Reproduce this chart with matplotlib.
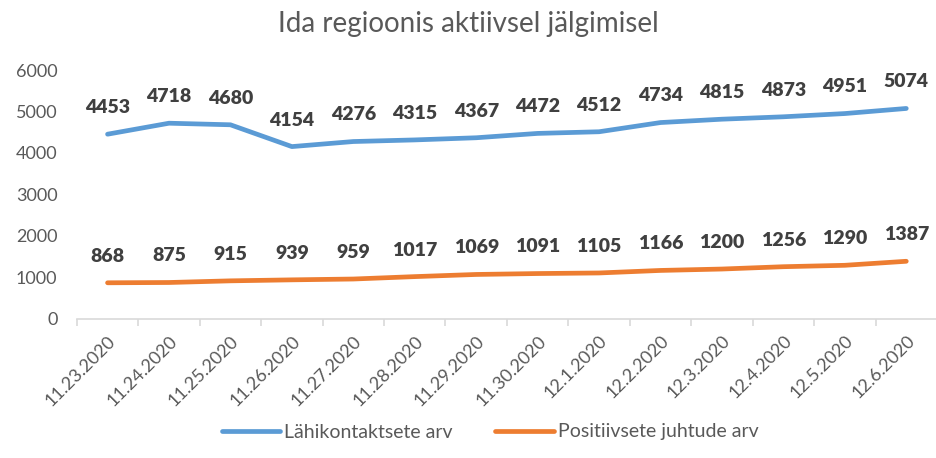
import matplotlib.pyplot as plt
import numpy as np

plt.rcParams['font.family'] = ['Lato', 'DejaVu Sans']

dates = ['11.23.2020', '11.24.2020', '11.25.2020', '11.26.2020', '11.27.2020',
         '11.28.2020', '11.29.2020', '11.30.2020', '12.1.2020', '12.2.2020',
         '12.3.2020', '12.4.2020', '12.5.2020', '12.6.2020']
contacts = [4453, 4718, 4680, 4154, 4276, 4315, 4367, 4472, 4512, 4734,
            4815, 4873, 4951, 5074]
positives = [868, 875, 915, 939, 959, 1017, 1069, 1091, 1105, 1166,
             1200, 1256, 1290, 1387]

blue = '#5B9BD5'
orange = '#ED7D31'
text_col = '#595959'
label_col = '#404040'

fig = plt.figure(figsize=(9.37, 4.58), dpi=100)
ax = fig.add_axes([0.082, 0.304, 0.918, 0.543])

x = np.arange(len(dates))
ax.plot(x, contacts, color=blue, lw=3.4, solid_capstyle='round', label='Lähikontaktsete arv')
ax.plot(x, positives, color=orange, lw=3.4, solid_capstyle='round', label='Positiivsete juhtude arv')

for series in (contacts, positives):
    for xi, v in zip(x, series):
        ax.annotate(str(v), (xi, v), xytext=(0, 13), textcoords='offset points',
                    ha='center', va='bottom', fontsize=14, fontweight='heavy',
                    color=label_col)

ax.set_xlim(-0.5, len(dates) - 0.5)
ax.set_ylim(0, 6000)
ax.set_yticks(range(0, 6001, 1000))
ax.set_xticks(x)
ax.set_xticklabels(dates, rotation=45, ha='right', rotation_mode='anchor')
ax.set_xticks(np.arange(-0.5, len(dates), 1), minor=True)

for s in ['top', 'right', 'left']:
    ax.spines[s].set_visible(False)
ax.spines['bottom'].set_color('#D9D9D9')
ax.spines['bottom'].set_linewidth(1.2)
ax.tick_params(axis='y', length=0, labelsize=13, labelcolor=text_col, pad=14)
ax.tick_params(axis='x', which='major', length=0, labelsize=13, labelcolor=text_col, pad=10)
ax.tick_params(axis='x', which='minor', length=5, color='#D9D9D9', width=1.2)

fig.suptitle('Ida regioonis aktiivsel jälgimisel', y=0.975, fontsize=20, color=text_col)

fig.legend(loc='lower center', bbox_to_anchor=(0.523, 0.0), ncol=2, frameon=False,
           fontsize=14, labelcolor=text_col, handlelength=3.0, columnspacing=2.2,
           handletextpad=0.2)

fig.savefig('out.png', dpi=100)
